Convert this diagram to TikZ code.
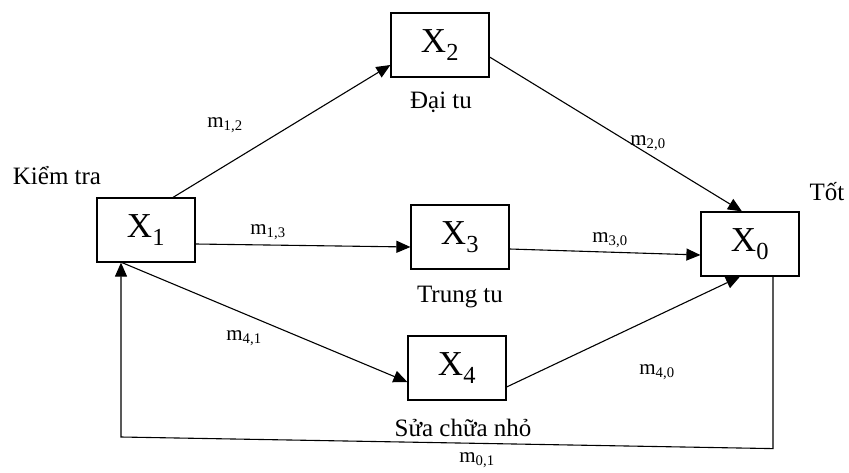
\documentclass[tikz,border=0pt]{standalone}
\usepackage{fontspec}
\setmainfont{Liberation Serif}
\usetikzlibrary{arrows.meta,positioning,calc}

\tikzset{
  state/.style={draw,line width=1.2pt,minimum width=98pt,minimum height=64pt,
    inner sep=0pt,font=\fontsize{35}{38}\selectfont},
  arr/.style={-{Triangle[length=14pt,width=12pt]},line width=1.1pt},
  lbl/.style={font=\fontsize{25}{28}\selectfont,inner sep=0pt},
  rate/.style={font=\fontsize{21}{24}\selectfont,inner sep=0pt}
}

\begin{document}
\begin{tikzpicture}[x=1pt,y=-1pt]
    \useasboundingbox (0,0) rectangle (849,472);

    % States
    \node[state] (x1) at (146,230) {X\textsubscript{1}};
    \node[state] (x2) at (440,45) {X\textsubscript{2}};
    \node[state] (x3) at (460,237) {X\textsubscript{3}};
    \node[state] (x4) at (457,368) {X\textsubscript{4}};
    \node[state] (x0) at (750,244) {X\textsubscript{0}};

    % State names
    \node[lbl] (kiem) at (57,176) {Kiểm tra};
    \node[lbl] (daitu) at (441,102) {Đại tu};
    \node[lbl] (trungtu) at (460,297) {Trung tu};
    \node[lbl] (suachua) at (463,428) {Sửa chữa nhỏ};
    \node[lbl] (tot) at (827,192) {Tốt};

    % Transitions
    \draw[arr] ([xshift=27pt]x1.north) -- ([yshift=-20pt]x2.west);
    \draw[arr] ([yshift=-12pt]x2.east) -- ([xshift=-8pt]x0.north);
    \draw[arr] ([yshift=-14pt]x1.east) -- ([yshift=-10pt]x3.west);
    \draw[arr] ([yshift=-12pt]x3.east) -- ([yshift=-11pt]x0.west);
    \draw[arr] ([xshift=-24pt]x1.south) -- ([yshift=-14pt]x4.west);
    \draw[arr] ([yshift=-19pt]x4.east) -- ([xshift=-10pt]x0.south);

    % Return path
    \coordinate (ll) at (121,437);
    \draw[arr] ([xshift=23pt]x0.south) -- ++(0,172) -- (ll) -- ([xshift=-25pt]x1.south);

    % Rates
    \node[rate] (m12) at (225,125) {m\textsubscript{1,2}};
    \node[rate] (m20) at (648,143) {m\textsubscript{2,0}};
    \node[rate] (m13) at (268,232) {m\textsubscript{1,3}};
    \node[rate] (m30) at (610,240) {m\textsubscript{3,0}};
    \node[rate] (m41) at (244,338) {m\textsubscript{4,1}};
    \node[rate] (m40) at (657,372) {m\textsubscript{4,0}};
    \node[rate] (m01) at (477,460) {m\textsubscript{0,1}};
\end{tikzpicture}
\end{document}
